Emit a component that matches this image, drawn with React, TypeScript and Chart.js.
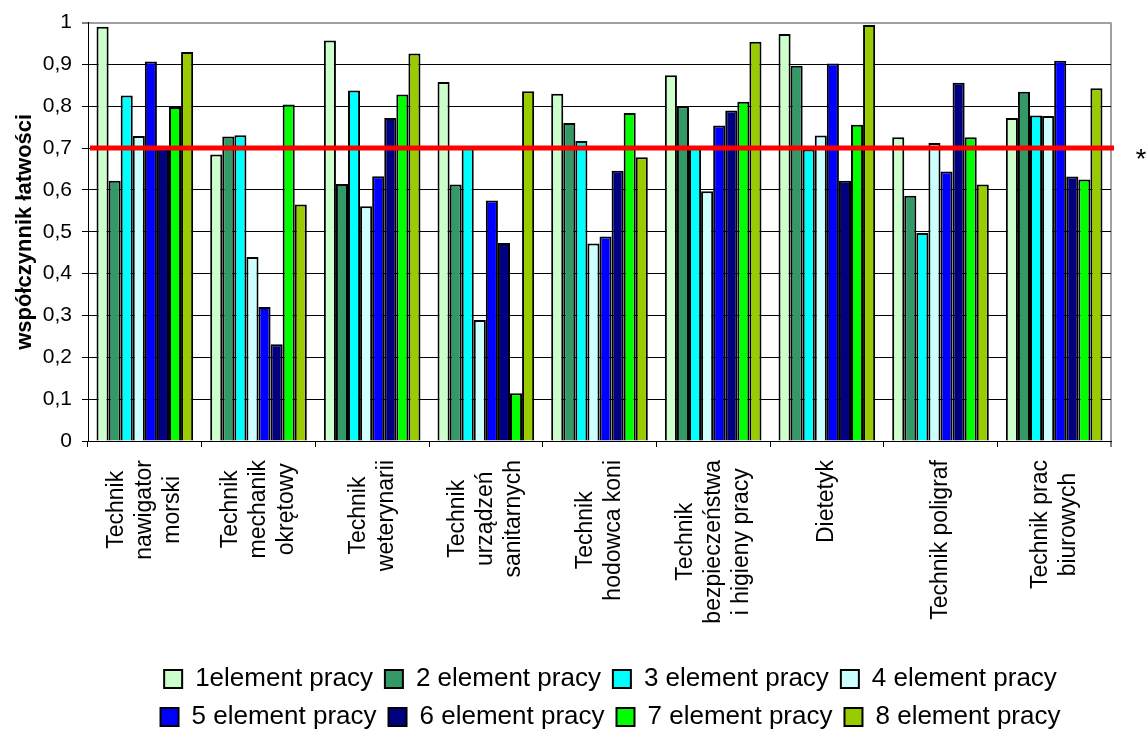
import React, { useEffect, useRef } from "react";
import { Chart, registerables } from "chart.js";

Chart.register(...registerables);

const FONT = "'Liberation Sans', Arial, sans-serif";

const categories: string[][] = [
  ["Technik", "nawigator", "morski"],
  ["Technik", "mechanik", "okrętowy"],
  ["Technik", "weterynarii"],
  ["Technik", "urządzeń", "sanitarnych"],
  ["Technik", "hodowca koni"],
  ["Technik", "bezpieczeństwa", "i higieny pracy"],
  ["Dietetyk"],
  ["Technik poligraf"],
  ["Technik prac", "biurowych"],
];

const seriesNames = [
  "1element pracy",
  "2 element pracy",
  "3 element pracy",
  "4 element pracy",
  "5 element pracy",
  "6 element pracy",
  "7 element pracy",
  "8 element pracy",
];

const seriesColors = [
  "#CCFFCC",
  "#339966",
  "#00FFFF",
  "#CCFFFF",
  "#0000FF",
  "#000080",
  "#00FF00",
  "#99CC00",
];

const s1 = [0.99, 0.685, 0.957, 0.858, 0.83, 0.874, 0.973, 0.726, 0.772];
const s2 = [0.622, 0.728, 0.614, 0.613, 0.76, 0.8, 0.897, 0.586, 0.835];
const s3 = [0.826, 0.731, 0.838, 0.703, 0.717, 0.702, 0.697, 0.497, 0.778];
const s4 = [0.729, 0.44, 0.561, 0.289, 0.472, 0.597, 0.73, 0.712, 0.777];
const s5 = [0.907, 0.32, 0.633, 0.575, 0.489, 0.754, 0.902, 0.644, 0.909];
const s6 = [0.7, 0.231, 0.772, 0.473, 0.646, 0.79, 0.622, 0.856, 0.632];
const s7 = [0.798, 0.804, 0.828, 0.114, 0.784, 0.811, 0.756, 0.726, 0.625];
const s8 = [0.93, 0.565, 0.926, 0.836, 0.678, 0.954, 0.994, 0.613, 0.843];

const seriesValues = [s1, s2, s3, s4, s5, s6, s7, s8];

const yTickLabels = ["0", "0,1", "0,2", "0,3", "0,4", "0,5", "0,6", "0,7", "0,8", "0,9", "1"];
const yTitle = "współczynnik łatwości";
const THRESHOLD = 0.7;
const THRESHOLD_MARK = "*";

const catLabelPlugin = {
  id: "catLabels",
  afterDraw(chart: any) {
    const xs = chart.scales.x;
    const ctx = chart.ctx;
    ctx.save();
    ctx.font = `23px ${FONT}`;
    ctx.fillStyle = "#000";
    ctx.textAlign = "center";
    ctx.textBaseline = "middle";
    const top = xs.top + 19;
    categories.forEach((lines, i) => {
      const cx = xs.getPixelForValue(i);
      const maxW = Math.max(...lines.map((l) => ctx.measureText(l).width));
      ctx.save();
      ctx.translate(cx, top);
      ctx.rotate(-Math.PI / 2);
      lines.forEach((line, j) => {
        const v = (j - (lines.length - 1) / 2) * 28;
        ctx.fillText(line, -maxW / 2, v);
      });
      ctx.restore();
    });
    ctx.restore();
  },
};

const thresholdPlugin = {
  id: "threshold",
  afterDatasetsDraw(chart: any) {
    const { ctx, chartArea } = chart;
    const y = chart.scales.y.getPixelForValue(THRESHOLD);
    ctx.save();
    ctx.strokeStyle = "#FF0000";
    ctx.lineWidth = 5;
    ctx.beginPath();
    ctx.moveTo(chartArea.left + 2, y);
    ctx.lineTo(chartArea.right + 3, y);
    ctx.stroke();
    ctx.fillStyle = "#000";
    ctx.font = `27px ${FONT}`;
    ctx.textAlign = "center";
    ctx.textBaseline = "alphabetic";
    ctx.fillText(THRESHOLD_MARK, chartArea.right + 30, y + 20);
    ctx.restore();
  },
};

const legendShiftPlugin = {
  id: "legendShift",
  afterLayout(chart: any) {
    const lg = chart.legend;
    if (!lg) return;
    const w = lg.right - lg.left;
    const h = lg.bottom - lg.top;
    lg.left = 55;
    lg.right = 55 + w;
    lg.top = 654;
    lg.bottom = 654 + h;
  },
};

export default function App() {
  const ref = useRef<HTMLCanvasElement | null>(null);

  useEffect(() => {
    if (!ref.current) return;
    Chart.defaults.font.family = FONT;
    const datasets = seriesValues.map((data, k) => ({
      label: seriesNames[k],
      data,
      backgroundColor: seriesColors[k],
      borderColor: "#000",
      borderWidth: 2,
      categoryPercentage: 0.85,
      barPercentage: 1,
    }));
    const chart = new Chart(ref.current, {
      type: "bar",
      data: { labels: categories as any, datasets },
      options: {
        animation: false,
        responsive: false,
        devicePixelRatio: 1,
        events: [],
        layout: { padding: { top: 22, right: 37, bottom: 0, left: 0 } },
        plugins: {
          tooltip: { enabled: false },
          legend: {
            position: "bottom",
            labels: {
              color: "#000",
              font: { size: 26, family: FONT },
              boxWidth: 18,
              boxHeight: 18,
              padding: 12,
              generateLabels: (c: any) =>
                (Chart.defaults.plugins.legend.labels as any)
                  .generateLabels(c)
                  .map((it: any) => ({ ...it, lineWidth: 2, strokeStyle: "#000" })),
            },
          },
        },
        scales: {
          x: {
            offset: true,
            ticks: { display: false },
            grid: {
              offset: true,
              drawOnChartArea: true,
              color: (c: any) => (c.type === "tick" ? "rgba(0,0,0,0)" : "#A0A0A0"),
              lineWidth: (c: any) => (c.type === "tick" ? 1 : 2),
              tickColor: "#000",
              tickWidth: 1,
              tickLength: 6,
            },
            border: { color: "#000", width: 1 },
            afterFit: (s: any) => {
              s.height = 204;
            },
          },
          y: {
            min: 0,
            max: 1,
            ticks: {
              stepSize: 0.1,
              color: "#000",
              padding: 10,
              font: { size: 21, family: FONT },
              callback: (_v: any, i: number) => yTickLabels[i],
            },
            grid: {
              color: (c: any) => (c.tick && Math.abs(c.tick.value - 1) < 1e-6 ? "#A0A0A0" : "#000"),
              lineWidth: (c: any) => (c.tick && Math.abs(c.tick.value - 1) < 1e-6 ? 2 : 1),
              tickColor: "#000",
              tickWidth: 1,
              tickLength: 6,
            },
            border: { color: "#000", width: 1 },
            title: {
              display: true,
              text: yTitle,
              color: "#000",
              font: { size: 22, weight: "bold", family: FONT },
              padding: { top: 12, bottom: 0 },
            },
            afterFit: (s: any) => {
              s.width = 88;
            },
          },
        },
      } as any,
      plugins: [catLabelPlugin, thresholdPlugin, legendShiftPlugin],
    });
    return () => chart.destroy();
  }, []);

  return (
    <div style={{ position: "absolute", left: 0, top: 0, width: 1148, height: 731, background: "#fff" }}>
      <canvas ref={ref} width={1148} height={731} style={{ display: "block" }} />
    </div>
  );
}
